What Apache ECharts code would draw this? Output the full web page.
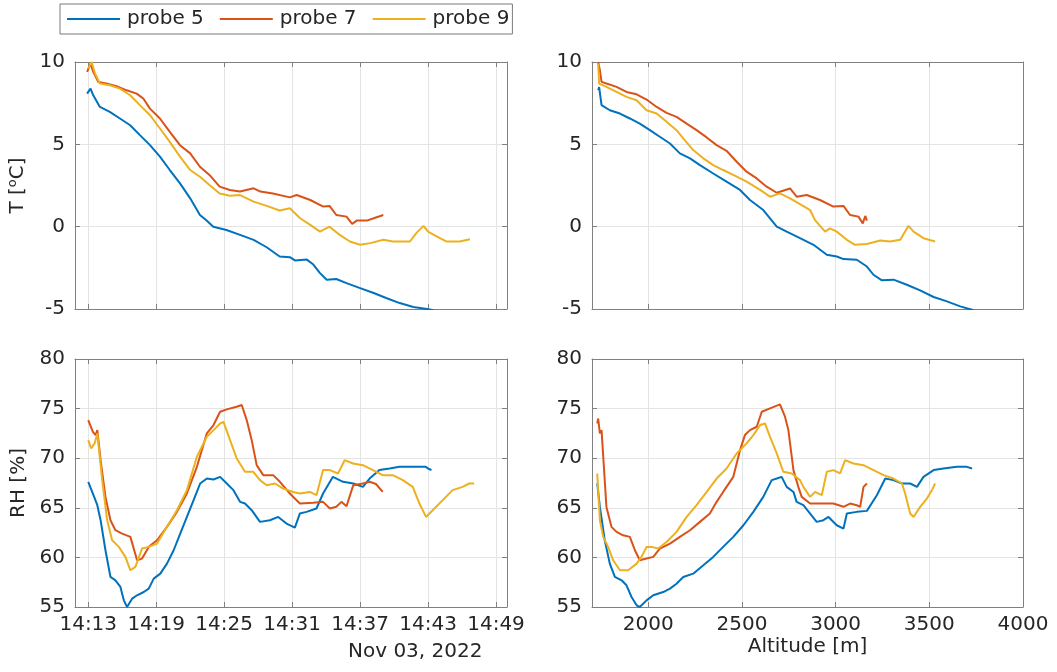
<!DOCTYPE html>
<html><head><meta charset="utf-8">
<script src="https://cdn.jsdelivr.net/npm/echarts@6/dist/echarts.min.js"></script>
<style>html,body{margin:0;padding:0;background:#fff}#c{width:1057px;height:672px}</style>
</head><body><div id="c"></div><script>
// ---------------- data ----------------
const probeNames = ['probe 5', 'probe 7', 'probe 9'];
const timeTickLabels = ['14:13', '14:19', '14:25', '14:31', '14:37', '14:43', '14:49'];
const altitudeTicks = [2000, 2500, 3000, 3500, 4000];
const dateLabel = 'Nov 03, 2022';

// temperature vs time (minutes after 14:13, deg C)
const tempTimeP5 = [[-0.1,8.08],[0.2,8.38],[0.44,7.98],[1.03,7.27],[1.9,6.97],[2.8,6.57],[3.7,6.16],[4.56,5.56],[5.45,4.95],[6.33,4.25],[7.2,3.44],[8.1,2.63],[9.0,1.72],[9.86,0.71],[10.45,0.37],[11.04,0.0],[12.2,-0.2],[13.4,-0.5],[14.6,-0.8],[15.75,-1.25],[16.9,-1.81],[17.8,-1.85],[18.25,-2.05],[19.3,-2.0],[19.87,-2.3],[20.46,-2.82],[21.05,-3.22],[21.9,-3.18],[22.8,-3.43],[24.0,-3.73],[25.2,-4.03],[26.3,-4.33],[27.5,-4.64],[28.7,-4.88],[29.9,-5.0],[30.5,-5.08]];
const tempTimeP7 = [[-0.1,9.4],[0.2,9.9],[0.44,9.4],[0.88,8.79],[1.6,8.69],[2.5,8.53],[3.39,8.28],[4.27,8.08],[4.86,7.78],[5.45,7.17],[6.33,6.57],[7.2,5.76],[8.1,4.95],[9.0,4.45],[9.86,3.64],[10.7,3.14],[11.6,2.43],[12.5,2.23],[13.4,2.13],[14.6,2.33],[15.2,2.13],[16.3,2.02],[17.8,1.78],[18.4,1.92],[19.6,1.62],[20.75,1.22],[21.3,1.26],[21.9,0.71],[22.8,0.61],[23.3,0.17],[23.7,0.37],[24.6,0.37],[25.2,0.51],[26.05,0.71]];
const tempTimeP9 = [[0,9.6],[0.3,10.0],[0.6,9.3],[1.03,8.69],[1.9,8.59],[2.8,8.38],[3.7,7.98],[4.56,7.38],[5.45,6.77],[6.33,5.96],[7.2,5.15],[8.1,4.25],[9.0,3.44],[9.86,3.03],[10.7,2.53],[11.6,2.02],[12.5,1.88],[13.4,1.92],[14.6,1.52],[15.75,1.26],[16.9,0.98],[17.8,1.12],[18.7,0.51],[19.6,0.11],[20.46,-0.3],[21.3,0.0],[22.2,-0.5],[23.1,-0.9],[24.0,-1.1],[24.9,-1.0],[26.05,-0.8],[26.9,-0.9],[28.4,-0.9],[29.0,-0.36],[29.6,0.05],[30.0,-0.3],[30.8,-0.6],[31.6,-0.9],[32.8,-0.9],[33.7,-0.76]];

// temperature vs altitude (m, deg C)
const tempAltP5 = [[1733,8.28],[1738,8.48],[1751,7.38],[1795,7.07],[1849,6.87],[1902,6.57],[1955,6.26],[2009,5.86],[2062,5.46],[2116,5.05],[2169,4.45],[2223,4.15],[2276,3.74],[2347,3.23],[2418,2.73],[2490,2.23],[2543,1.62],[2614,1.01],[2686,0.0],[2739,-0.3],[2810,-0.7],[2882,-1.1],[2953,-1.71],[3006,-1.81],[3042,-1.97],[3113,-2.01],[3167,-2.42],[3202,-2.92],[3247,-3.26],[3309,-3.22],[3380,-3.53],[3451,-3.87],[3523,-4.27],[3594,-4.54],[3665,-4.84],[3737,-5.08]];
const tempAltP7 = [[1733,10.0],[1742,9.5],[1751,8.79],[1777,8.69],[1831,8.49],[1884,8.18],[1938,8.04],[1991,7.72],[2045,7.27],[2098,6.91],[2151,6.67],[2205,6.26],[2258,5.86],[2312,5.42],[2365,4.95],[2418,4.61],[2472,3.94],[2525,3.34],[2579,2.93],[2632,2.43],[2686,2.06],[2757,2.32],[2792,1.82],[2846,1.92],[2917,1.62],[2988,1.22],[3042,1.26],[3077,0.71],[3122,0.61],[3145,0.2],[3158,0.65],[3167,0.37]];
const tempAltP9 = [[1733,9.9],[1738,8.69],[1777,8.49],[1831,8.18],[1884,7.88],[1938,7.68],[1991,7.07],[2045,6.87],[2098,6.37],[2151,5.86],[2187,5.36],[2240,4.65],[2294,4.15],[2347,3.74],[2400,3.44],[2454,3.14],[2525,2.73],[2597,2.23],[2650,1.82],[2703,2.02],[2757,1.72],[2819,1.31],[2864,1.01],[2890,0.4],[2944,-0.3],[2970,-0.1],[3006,-0.3],[3060,-0.8],[3104,-1.1],[3167,-1.05],[3238,-0.84],[3291,-0.9],[3345,-0.8],[3389,0.05],[3416,-0.3],[3469,-0.7],[3531,-0.9]];

// relative humidity vs time (minutes after 14:13, %)
const rhTimeP5 = [[0,67.62],[0.35,66.6],[0.8,65.26],[1.09,63.75],[1.52,60.72],[1.96,58.03],[2.4,57.69],[2.84,57.02],[3.14,55.67],[3.43,55.0],[3.87,55.84],[4.31,56.18],[4.9,56.51],[5.34,56.85],[5.78,57.86],[6.36,58.36],[6.95,59.37],[7.54,60.72],[8.12,62.4],[8.71,64.08],[9.3,65.77],[9.88,67.45],[10.47,67.95],[11.06,67.85],[11.64,68.12],[12.23,67.45],[12.82,66.78],[13.4,65.6],[13.84,65.43],[14.43,64.76],[15.16,63.58],[16.04,63.75],[16.77,64.08],[17.5,63.41],[18.24,63.0],[18.68,64.42],[19.27,64.59],[20.15,64.93],[20.73,66.44],[21.6,68.12],[22.5,67.62],[23.4,67.45],[24.25,67.11],[24.84,67.95],[25.7,68.8],[26.6,68.96],[27.48,69.13],[28.65,69.13],[29.8,69.13],[30.0,68.96],[30.3,68.8]];
const rhTimeP7 = [[0,73.84],[0.15,74.0],[0.41,72.66],[0.65,72.33],[0.8,72.83],[1.09,69.8],[1.52,66.1],[1.96,63.75],[2.4,62.74],[2.99,62.4],[3.72,62.07],[4.31,59.71],[4.75,59.88],[5.34,61.06],[6.07,61.73],[6.95,63.08],[7.83,64.59],[8.71,66.44],[9.59,69.13],[10.47,72.5],[11.06,73.34],[11.64,74.68],[12.23,74.92],[13.1,75.19],[13.55,75.36],[13.99,73.84],[14.43,71.82],[14.87,69.3],[15.45,68.29],[16.33,68.29],[16.92,67.62],[17.8,66.44],[18.68,65.43],[19.85,65.5],[20.73,65.6],[21.33,64.93],[21.9,65.1],[22.35,65.6],[22.8,65.16],[23.4,67.28],[24.25,67.45],[24.84,67.62],[25.4,67.4],[26.0,66.6]];
const rhTimeP9 = [[0,71.82],[0.26,70.98],[0.56,71.49],[0.8,72.5],[1.23,67.79],[1.67,63.75],[2.11,61.73],[2.7,61.06],[3.28,60.05],[3.72,58.7],[4.16,59.04],[4.75,60.89],[5.34,61.06],[6.07,61.39],[6.95,63.08],[7.83,64.76],[8.71,66.78],[9.59,70.14],[10.47,72.16],[11.06,72.83],[11.64,73.5],[11.94,73.67],[12.52,71.82],[13.11,69.97],[13.84,68.63],[14.57,68.63],[15.16,67.79],[15.75,67.28],[16.48,67.45],[17.21,66.94],[18.09,66.6],[18.68,66.44],[19.56,66.6],[20.15,66.27],[20.73,68.8],[21.33,68.8],[22.05,68.46],[22.64,69.8],[23.37,69.47],[24.25,69.3],[25.13,68.8],[26.0,68.29],[26.89,68.29],[27.77,67.79],[28.65,67.11],[29.24,65.43],[29.82,64.08],[30.41,64.76],[31.29,65.77],[32.17,66.78],[33.05,67.11],[33.64,67.45],[34.07,67.45]];

// relative humidity vs altitude (m, %)
const rhAltP5 = [[1728,67.45],[1742,65.09],[1768,61.73],[1795,59.37],[1822,58.03],[1858,57.69],[1884,57.19],[1911,56.01],[1938,55.17],[1955,55.0],[1991,55.67],[2027,56.18],[2080,56.51],[2116,56.85],[2151,57.35],[2187,58.03],[2240,58.36],[2294,59.2],[2347,60.05],[2400,61.06],[2454,62.07],[2508,63.24],[2561,64.59],[2614,66.1],[2659,67.79],[2686,67.95],[2712,68.12],[2739,67.11],[2775,66.6],[2792,65.6],[2828,65.26],[2864,64.42],[2899,63.58],[2935,63.75],[2962,64.08],[3006,63.24],[3042,62.91],[3060,64.42],[3113,64.59],[3167,64.69],[3220,66.27],[3265,67.95],[3309,67.79],[3354,67.45],[3398,67.45],[3434,67.11],[3469,68.12],[3523,68.8],[3576,68.96],[3647,69.13],[3701,69.13],[3728,68.96]];
const rhAltP7 = [[1728,73.5],[1733,74.0],[1742,72.5],[1751,72.83],[1760,70.14],[1777,65.09],[1804,63.08],[1831,62.57],[1866,62.23],[1902,62.07],[1929,60.72],[1955,59.71],[1991,59.88],[2027,60.05],[2062,60.89],[2116,61.39],[2169,62.07],[2223,62.74],[2276,63.58],[2329,64.42],[2365,65.6],[2400,66.6],[2454,68.12],[2490,70.81],[2516,72.33],[2543,72.83],[2579,73.17],[2606,74.68],[2650,75.02],[2703,75.42],[2730,74.18],[2748,72.83],[2775,68.8],[2801,67.11],[2819,66.1],[2864,65.43],[2935,65.43],[2988,65.43],[3042,65.1],[3077,65.43],[3113,65.26],[3131,65.1],[3149,67.11],[3167,67.45]];
const rhAltP9 = [[1728,68.46],[1742,63.75],[1760,62.07],[1786,61.06],[1813,59.71],[1849,58.7],[1893,58.7],[1938,59.37],[1964,60.05],[1991,61.06],[2018,61.06],[2053,60.89],[2098,61.56],[2151,62.57],[2205,64.08],[2258,65.26],[2312,66.6],[2365,67.95],[2418,68.96],[2472,70.48],[2525,71.49],[2561,72.33],[2597,73.34],[2623,73.5],[2650,72.16],[2686,70.48],[2721,68.63],[2766,68.46],[2810,67.79],[2828,67.11],[2864,66.1],[2890,66.6],[2926,66.27],[2953,68.63],[2988,68.8],[3024,68.46],[3051,69.8],[3095,69.47],[3149,69.3],[3202,68.8],[3256,68.29],[3309,67.95],[3354,67.45],[3371,66.44],[3398,64.42],[3416,64.08],[3451,65.09],[3487,65.93],[3514,66.78],[3531,67.45]];

// ---------------- chart ----------------
const FONT = 'DejaVu Sans';
const TXT = '#262626';
const FRAME = '#808080';
const GRIDC = '#e4e4e4';
const COLORS = ['#0072BD', '#D95319', '#EDB120'];
const FS = 20;

const T0 = 14 * 60 + 13;
const timeTickValues = timeTickLabels.map(s => { const p = s.split(':'); return (+p[0]) * 60 + (+p[1]) - T0; });
const timeFmt = v => { const m = Math.round(v) + T0; return Math.floor(m / 60) + ':' + String(m % 60).padStart(2, '0'); };

const grids = [
  { left: 75, top: 62, width: 432, height: 247 },
  { left: 592, top: 62, width: 431, height: 247 },
  { left: 75, top: 359, width: 432, height: 248 },
  { left: 592, top: 359, width: 431, height: 248 }
];

const labelStyle = { color: TXT, fontFamily: FONT, fontSize: FS };
const xAxes = [], yAxes = [];

function addX(gi, min, max, ticks, showLabels, fmt, name) {
  const common = {
    type: 'value', gridIndex: gi, min: min, max: max,
    axisLine: { show: true, onZero: false, lineStyle: { color: FRAME, width: 1 } },
    axisTick: { show: true, inside: true, length: 5, customValues: ticks, lineStyle: { color: FRAME } }
  };
  xAxes.push(Object.assign({}, common, {
    position: 'bottom',
    axisLabel: Object.assign({ show: showLabels, customValues: ticks, formatter: fmt, margin: 8 }, labelStyle),
    splitLine: { show: true, lineStyle: { color: GRIDC, width: 1 } },
    name: name || '', nameLocation: 'middle', nameGap: 30,
    nameTextStyle: labelStyle
  }));
  xAxes.push(Object.assign({}, common, {
    position: 'top', axisLabel: { show: false }, splitLine: { show: false }
  }));
}
function addY(gi, min, max, name) {
  const common = {
    type: 'value', gridIndex: gi, min: min, max: max, interval: 5,
    axisLine: { show: true, onZero: false, lineStyle: { color: FRAME, width: 1 } },
    axisTick: { show: true, inside: true, length: 5, lineStyle: { color: FRAME } }
  };
  yAxes.push(Object.assign({}, common, {
    position: 'left',
    axisLabel: Object.assign({ show: true, margin: 10 }, labelStyle),
    splitLine: { show: true, lineStyle: { color: GRIDC, width: 1 } },
    name: name || '', nameLocation: 'middle', nameGap: 46,
    nameTextStyle: Object.assign({}, labelStyle, {
      rich: { sup: { fontSize: 13, fontFamily: FONT, color: TXT, padding: [0, 0, 10, 0] } }
    })
  }));
  yAxes.push(Object.assign({}, common, {
    position: 'right', axisLabel: { show: false }, splitLine: { show: false }
  }));
}

addX(0, -1.17, 36.97, timeTickValues, false, timeFmt);
addY(0, -5, 10, 'T [{sup|o}C]');
addX(1, 1700, 4000, altitudeTicks, false, null);
addY(1, -5, 10, '');
addX(2, -1.17, 36.97, timeTickValues, true, timeFmt);
addY(2, 55, 80, 'RH [%]');
addX(3, 1700, 4000, altitudeTicks, true, v => String(v), 'Altitude [m]');
addY(3, 55, 80, '');

const panelData = [
  [tempTimeP5, tempTimeP7, tempTimeP9],
  [tempAltP5, tempAltP7, tempAltP9],
  [rhTimeP5, rhTimeP7, rhTimeP9],
  [rhAltP5, rhAltP7, rhAltP9]
];
const series = [];
panelData.forEach((sets, gi) => {
  sets.forEach((d, pi) => {
    series.push({
      type: 'line', name: probeNames[pi], data: d,
      xAxisIndex: gi * 2, yAxisIndex: gi * 2,
      symbol: 'none', showSymbol: false, clip: true,
      lineStyle: { color: COLORS[pi], width: 2 },
      itemStyle: { color: COLORS[pi] },
      z: 2 + pi
    });
  });
});

const chart = echarts.init(document.getElementById('c'), null, { renderer: 'canvas' });
chart.setOption({
  animation: false,
  backgroundColor: '#ffffff',
  grid: grids,
  xAxis: xAxes,
  yAxis: yAxes,
  legend: {
    data: probeNames.map(n => ({ name: n, icon: 'rect' })),
    left: 60, top: 4, orient: 'horizontal',
    padding: [5, 3, 5, 7], itemGap: 16, itemWidth: 53, itemHeight: 2,
    borderColor: '#7a7a7a', borderWidth: 1, backgroundColor: '#ffffff',
    textStyle: { color: TXT, fontFamily: FONT, fontSize: FS, padding: [0, 0, 0, 2] }
  },
  graphic: [{
    type: 'text', left: 348, top: 642,
    style: { text: dateLabel, font: FS + 'px "' + FONT + '"', fill: TXT }
  }],
  series: series
});
</script></body></html>
